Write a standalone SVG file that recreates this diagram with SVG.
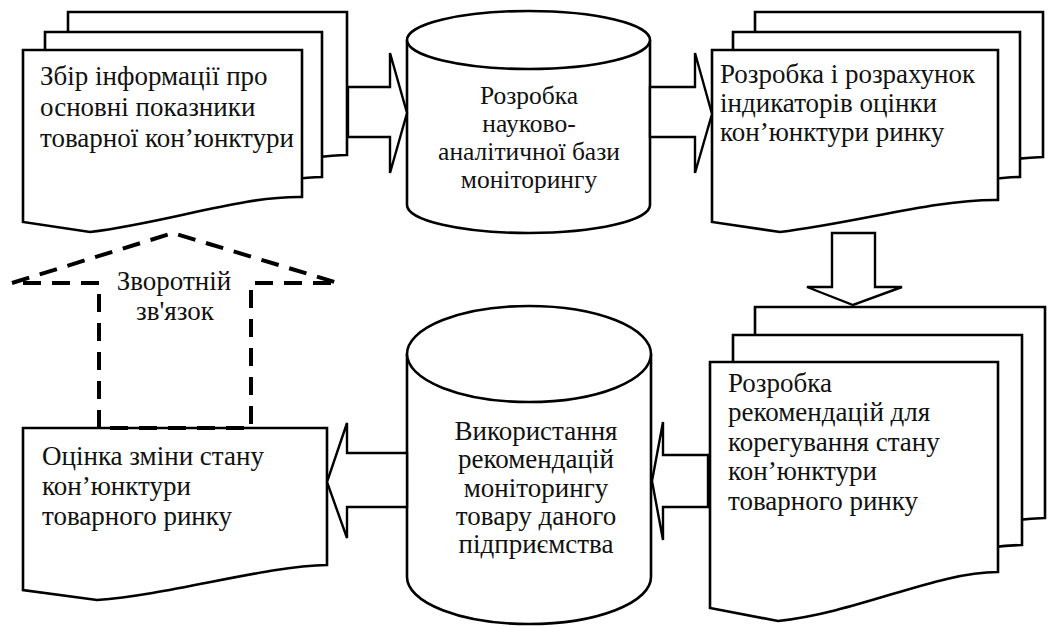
<svg xmlns="http://www.w3.org/2000/svg" width="1051" height="626" viewBox="0 0 1051 626">
<style>
.sh{fill:#fff;stroke:#000;stroke-width:2.6;stroke-linejoin:miter}
.ar{fill:#fff;stroke:#000;stroke-width:2.4;stroke-linejoin:miter}
.fb{fill:none;stroke:#000;stroke-width:4;stroke-dasharray:18 11}
.t{font-family:"Liberation Serif","Times New Roman",serif;font-size:27px;fill:#111}
.s{font-size:25.5px}
.c{text-anchor:middle}
</style>
<rect width="1051" height="626" fill="#fff"/>
<g id="doc-collect">
<path class="sh" d="M68,12 H347 V155 C285,157 190,180 125,190 L68,182 Z"/>
<path class="sh" d="M45,32 H322 V177 C260,179 170,200 110,210 L45,202 Z"/>
<path class="sh" d="M23,50 H302 V197 C240,196 170,222 90,232 L23,222 Z"/>
<text class="t" x="40" y="85">Збір інформації про</text>
<text class="t" x="40" y="116">основні показники</text>
<text class="t" x="40" y="147">товарної кон’юнктури</text>
</g>
<g id="db-base">
<path class="sh" d="M407,40 V205 A121.5,28 0 0 0 650,205 V40"/>
<ellipse class="sh" cx="528.5" cy="40" rx="121.5" ry="29"/>
<text class="t s c" x="529" y="104">Розробка</text>
<text class="t s c" x="529" y="132">науково-</text>
<text class="t s c" x="529" y="160">аналітичної бази</text>
<text class="t s c" x="529" y="188">моніторингу</text>
</g>
<g id="doc-indicators">
<path class="sh" d="M755,12 H1043 V157 C980,159 890,182 830,190 L755,182 Z"/>
<path class="sh" d="M733,32 H1020 V177 C958,179 870,200 810,210 L733,202 Z"/>
<path class="sh" d="M712,50 H998 V200 C936,199 860,222 780,232 L712,222 Z"/>
<text class="t" x="720" y="83">Розробка і розрахунок</text>
<text class="t" x="720" y="112">індикаторів оцінки</text>
<text class="t" x="720" y="141">кон’юнктури ринку</text>
</g>
<g id="doc-recommend">
<path class="sh" d="M755,307 H1045 V518 C980,520 890,545 830,553 L755,545 Z"/>
<path class="sh" d="M733,335 H1022 V545 C960,547 870,572 810,580 L733,572 Z"/>
<path class="sh" d="M710,362 H998 V572 C936,572 860,612 778,621 L710,608 Z"/>
<text class="t" x="728" y="392">Розробка</text>
<text class="t" x="728" y="421">рекомендацій для</text>
<text class="t" x="728" y="451">корегування стану</text>
<text class="t" x="728" y="480">кон’юнктури</text>
<text class="t" x="728" y="510">товарного ринку</text>
</g>
<g id="db-use">
<path class="sh" d="M407,354 V577 A122,47 0 0 0 651,577 V354"/>
<ellipse class="sh" cx="529" cy="354" rx="122" ry="48"/>
<text class="t c" x="536" y="440">Використання</text>
<text class="t c" x="536" y="468">рекомендацій</text>
<text class="t c" x="536" y="497">моніторингу</text>
<text class="t c" x="536" y="525">товару даного</text>
<text class="t c" x="536" y="553">підприємства</text>
</g>
<g id="doc-evaluate">
<path class="sh" d="M23,428 H327 V565 C265,566 170,595 97,600 L23,590 Z"/>
<text class="t" x="42" y="465">Оцінка зміни стану</text>
<text class="t" x="42" y="495">кон’юнктури</text>
<text class="t" x="42" y="525">товарного ринку</text>
</g>
<g id="connectors">
<polygon class="ar" points="348,87 390,87 390,53 407,113 390,173 390,137 348,137"/>
<polygon class="ar" points="650,87 695,87 695,53 712,114 695,173 695,137 650,137"/>
<polygon class="ar" points="832,233 875,233 875,287 902,287 853,305 807,287 832,287"/>
<polygon class="ar" points="708,455 663,455 663,422 652,481 663,540 663,507 708,507"/>
<polygon class="ar" points="407,453 347,453 347,423 327,482 347,538 347,507 407,507"/>
<g id="feedback">
<path class="fb" d="M99,428 V283 H12 L173,233 L338,283 H251 V428 H99"/>
<text class="t c" x="174" y="290">Зворотній</text>
<text class="t c" x="175" y="320">зв'язок</text>
</g>
</g>
</svg>
